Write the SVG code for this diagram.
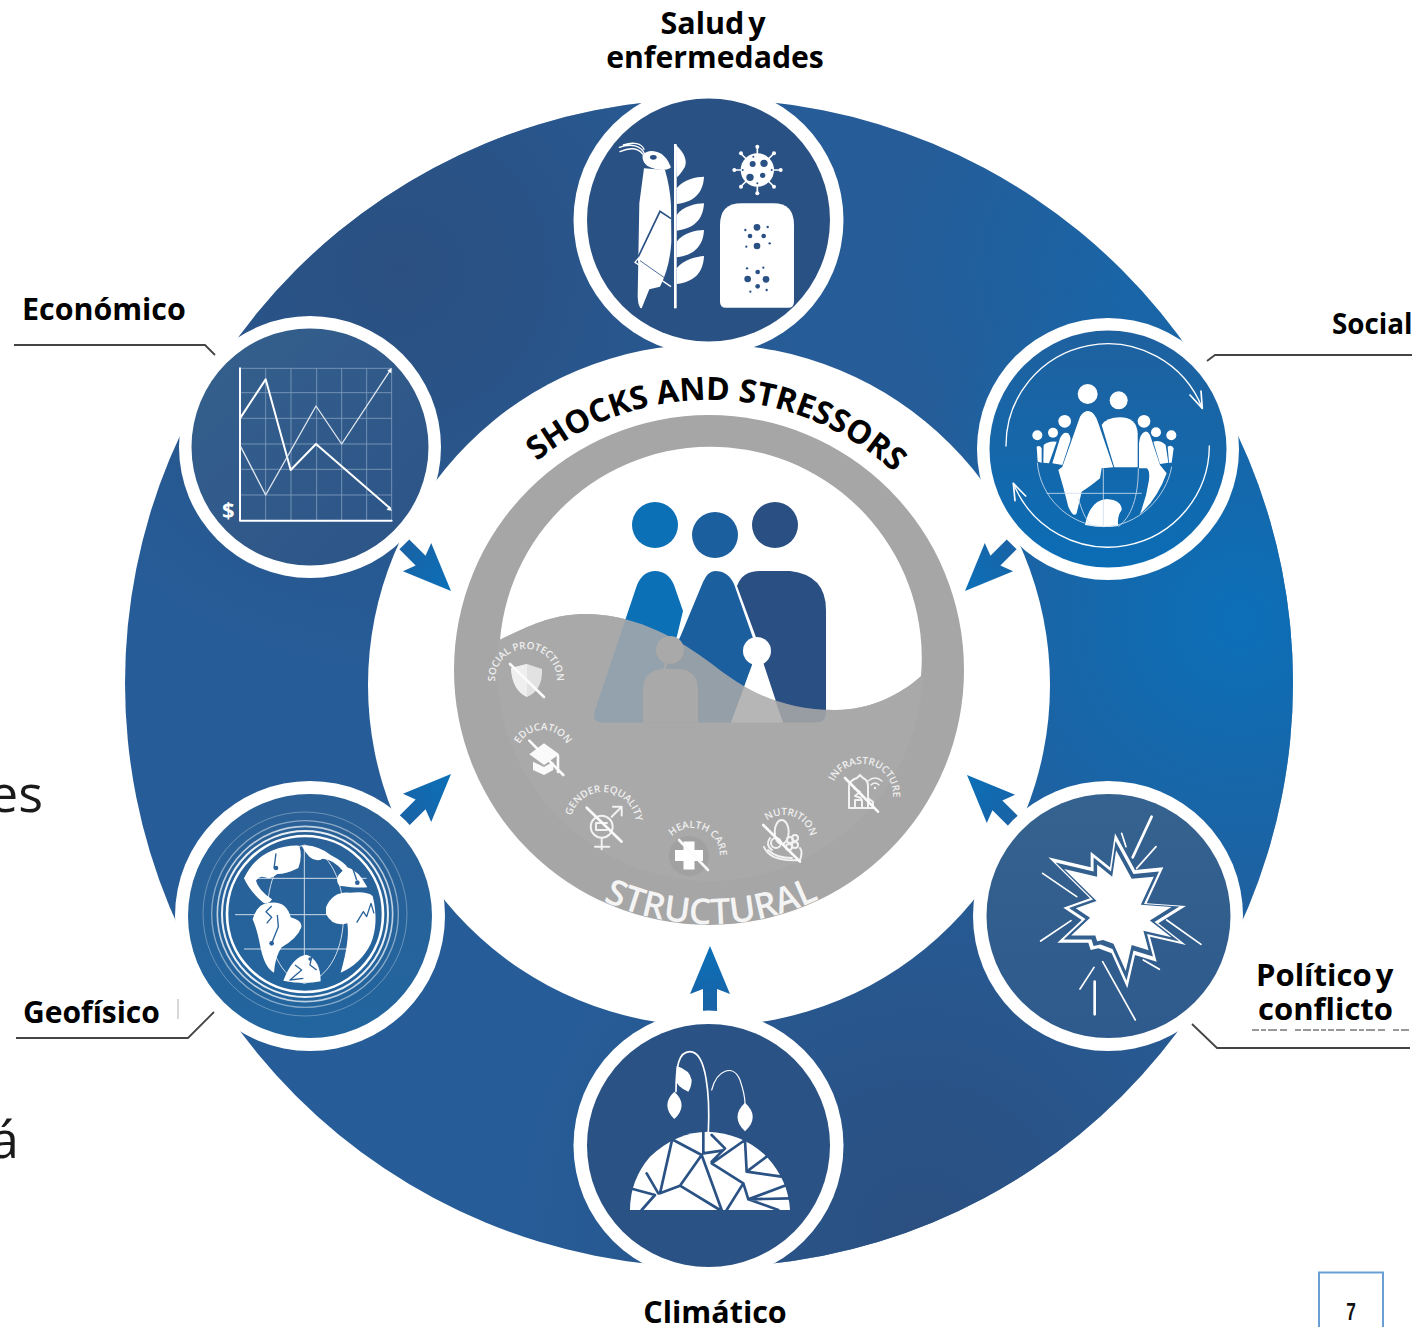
<svg xmlns="http://www.w3.org/2000/svg" xmlns:xlink="http://www.w3.org/1999/xlink" width="1416" height="1327" viewBox="0 0 1416 1327">
<style>
.lb{font-family:"Open Sans","Liberation Sans",sans-serif;font-weight:700;font-size:30px;fill:#000;word-spacing:-4px}
.sm{font-family:"Open Sans","Liberation Sans",sans-serif;font-size:10px;fill:#efefef;font-weight:600}
.bg{font-family:"Open Sans","Liberation Sans",sans-serif;font-size:52px;fill:#1a1a1a}
.w{fill:#fff}.d{fill:#2a5184}
.ws{fill:none;stroke:#fff;stroke-linecap:round;stroke-linejoin:round}
.ic{fill:none;stroke:#f2f2f2;stroke-width:2;stroke-linecap:round;stroke-linejoin:round}
.sl{stroke:#fbfbfb;stroke-width:2.6;stroke-linecap:round}
.lead{fill:none;stroke:#444;stroke-width:1.8}
.crack{fill:none;stroke:#2a5285;stroke-width:8;stroke-linejoin:round;stroke-linecap:round}
</style>
<defs>
<radialGradient id="gA"><stop offset="0" stop-color="#0b6fb8"/><stop offset="1" stop-color="#0b6fb8" stop-opacity="0"/></radialGradient>
<radialGradient id="gB"><stop offset="0" stop-color="#2b4f80"/><stop offset="1" stop-color="#2b4f80" stop-opacity="0"/></radialGradient>
<linearGradient id="gSoc" x1="0" y1="0" x2="0" y2="1"><stop offset="0" stop-color="#1f619f"/><stop offset="1" stop-color="#0b6db5"/></linearGradient>
<linearGradient id="gEco" x1="0" y1="0" x2="1" y2="1"><stop offset="0" stop-color="#35608c"/><stop offset="1" stop-color="#2c5488"/></linearGradient>
<linearGradient id="gGeo" x1="0" y1="0" x2="0" y2="1"><stop offset="0" stop-color="#2b6096"/><stop offset="1" stop-color="#22659f"/></linearGradient>
<linearGradient id="gPol" x1="0" y1="0" x2="0" y2="1"><stop offset="0" stop-color="#36628f"/><stop offset="1" stop-color="#2e5a8d"/></linearGradient>
<linearGradient id="gArr" gradientUnits="userSpaceOnUse" x1="0" y1="0" x2="0" y2="68"><stop offset="0" stop-color="#0b70b8"/><stop offset="1" stop-color="#1a62a5"/></linearGradient>
<clipPath id="ringClip"><circle cx="709" cy="683" r="584"/></clipPath>
<clipPath id="innerClip"><circle cx="710" cy="668" r="213"/></clipPath>
<polygon id="arrow" points="0,0 20,48 7,43 7,66 -7,66 -7,43 -20,48" fill="url(#gArr)"/>
<path id="arcShock" d="M437,672 A272,272 0 0 1 981,672"/>
<path id="arcStruct" d="M455,670 A254,254 0 0 0 963,670"/>
<path id="a1" d="M499.2,695.5 A31,31 0 1 1 552.8,695.5"/>
<path id="a2" d="M519.6,770.5 A27,27 0 1 1 566.4,770.5"/>
<path id="a3" d="M574.4,841.5 A33,33 0 1 1 631.6,841.5"/>
<path id="a4" d="M667.8,870 A28,28 0 1 1 716.2,870"/>
<path id="a5" d="M760.6,855.5 A27,27 0 1 1 807.4,855.5"/>
<path id="a6" d="M835.2,810.5 A31,31 0 1 1 888.8,810.5"/>
</defs>

<g id="ring">
<circle cx="709" cy="683" r="584" fill="#265c97"/>
<g clip-path="url(#ringClip)">
<circle cx="1240" cy="620" r="380" fill="url(#gA)"/>
<circle cx="1130" cy="270" r="260" fill="url(#gA)" opacity=".45"/>
<circle cx="400" cy="270" r="400" fill="url(#gB)"/>
<circle cx="920" cy="1230" r="400" fill="url(#gB)"/>
</g>
<circle cx="709" cy="685" r="341" fill="#fff"/>
</g>

<g id="core">
<circle cx="709" cy="670" r="255" fill="#a6a6a6"/>
<path class="w" d="M500,640 A211,211 0 1 1 921,676 C900,695 870,710 835,710 C780,710 745,690 712,664 C680,640 640,616 590,614 C555,613 530,625 500,640Z"/>
<circle cx="655" cy="525" r="23" fill="#0b70b6"/>
<circle cx="715" cy="535" r="23" fill="#1b5f9f"/>
<circle cx="775" cy="525" r="23" fill="#2a5083"/>
<path fill="#0b70b6" d="M637,585 Q643,571 655,571 Q668,571 674,585 L683,611 L677,636 L640,722.5 H602 Q591,722 595,710Z"/>
<path fill="#1b5f9f" d="M703,582 Q708,571 715,571 Q728,571 734,584 L753,638 L752,665 L731,722.5 H640 L681,635Z"/>
<path fill="#2a5083" d="M737,586 Q742,571 760,571 H790 Q826,575 826,610 V712 Q826,722.5 815,722.5 H783 L764,665 L757,640Z"/>
<circle class="w" cx="757" cy="651" r="14"/>
<path class="w" d="M757,669 Q750,669 748,677 L731,722.5 H783 L766,677 Q764,669 757,669Z"/>
<g clip-path="url(#innerClip)">
<path fill="#aaaaaa" fill-opacity=".86" d="M497,641 C530,625 555,613 590,614 C640,616 680,640 712,664 C745,690 780,710 835,710 C870,710 900,695 925,674 V890 H497Z"/>
</g>
<circle cx="670" cy="650" r="14" fill="#a9a9a9"/>
<path fill="#a9a9a9" d="M643,722.5 V690 Q643,669 665,669 H676 Q698,669 698,690 V722.5Z"/>

<text font-family="'Open Sans','Liberation Sans',sans-serif" font-weight="700" font-size="32" fill="#000"><textPath xlink:href="#arcShock" href="#arcShock" startOffset="51%" text-anchor="middle">SHOCKS AND STRESSORS</textPath></text>
<text font-family="'Open Sans','Liberation Sans',sans-serif" font-weight="600" font-size="35.500" fill="#f4f4f4"><textPath xlink:href="#arcStruct" href="#arcStruct" startOffset="50.300%" text-anchor="middle">STRUCTURAL</textPath></text>

<g id="social-protection">
<text class="sm"><textPath href="#a1" startOffset="50%" text-anchor="middle">SOCIAL PROTECTION</textPath></text>
<path fill="#e2e2e2" d="M511,668 L527,664 L542,669 Q543,690 527,697 Q512,690 511,668Z"/>
<path fill="#efefef" d="M511,668 L527,664 V697 Q512,690 511,668Z"/>
<line class="sl" x1="510" y1="664" x2="544" y2="697"/>
</g>
<g id="education">
<text class="sm"><textPath href="#a2" startOffset="50%" text-anchor="middle">EDUCATION</textPath></text>
<polygon fill="#fafafa" points="529.3,754.3 544,743.3 559.3,754.3 544,765"/>
<polygon fill="#fafafa" points="533,761.7 533,770 544,775 553.3,770 553.3,761.7 544,767"/>
<line class="sl" x1="529.3" y1="740.7" x2="563.3" y2="775"/>
<line class="sl" x1="558" y1="756" x2="558" y2="772" stroke-width="1.5"/>
</g>
<g id="gender-equality">
<text class="sm" transform="rotate(5 603 825)"><textPath href="#a3" startOffset="50%" text-anchor="middle">GENDER EQUALITY</textPath></text>
<g class="ic" stroke-width="2.4"><circle cx="601.7" cy="826.7" r="11"/><path d="M611.7,816.7 L621.7,806.7 M613,806.7 H621.7 V815.5 M601.7,838 V849.3 M595,846.7 H609.3 M596,823 H607 M596,830 H607 M596,823 V830"/></g>
<line class="sl" x1="586.7" y1="807.7" x2="621.7" y2="841.7"/>
</g>
<g id="health-care">
<text class="sm" transform="rotate(22 692 856)"><textPath href="#a4" startOffset="50%" text-anchor="middle">HEALTH CARE</textPath></text>
<circle cx="689" cy="856" r="20" fill="#a1a1a1"/>
<path class="w" d="M683.5,841.5 H694.5 V850 H703 V861 H694.5 V869.5 H683.5 V861 H675 V850 H683.5Z"/>
<line class="sl" x1="679" y1="840" x2="708" y2="870"/>
</g>
<g id="nutrition">
<text class="sm" transform="rotate(20 784 842)"><textPath href="#a5" startOffset="50%" text-anchor="middle">NUTRITION</textPath></text>
<g class="ic" stroke-width="1.2"><ellipse cx="781.700" cy="832" rx="7" ry="12"/><circle cx="790" cy="840" r="3"/><circle cx="795" cy="845" r="3"/><circle cx="789" cy="847" r="3"/><circle cx="795" cy="838" r="3"/><circle cx="776" cy="843" r="5"/><path d="M764,847 Q770,862 800,860 Q803,852 800,848 M768,850 Q776,858 792,858 M770,838 Q765,845 772,850"/></g>
<line class="sl" x1="763.3" y1="825" x2="800" y2="861.7"/>
</g>
<g id="infrastructure">
<text class="sm" transform="rotate(15 862 795)"><textPath href="#a6" startOffset="50%" text-anchor="middle">INFRASTRUCTURE</textPath></text>
<g class="ic"><path d="M849,808 V786 Q850,780 857,778 L860,775 L863,778 Q868,780 868,786 V808 H849 M855,808 V800 H862 V808 M868,798 L873,802 V808 H868 M854,788 L860,792 L855,796 L861,798"/><path d="M868,781 Q875,775 882,781 M871,785 Q875,781 879,785" stroke-width="1.4"/></g>
<circle cx="875" cy="788" r="1.2" fill="#f2f2f2"/>
<line class="sl" x1="845" y1="778" x2="878" y2="811.7"/>
</g>
</g>

<g id="connectors">
<use href="#arrow" transform="translate(451 591) rotate(135)"/>
<use href="#arrow" transform="translate(965 591) rotate(225)"/>
<use href="#arrow" transform="translate(451 774) rotate(45)"/>
<use href="#arrow" transform="translate(967 775) rotate(315)"/>
<use href="#arrow" transform="translate(710 946)"/>
<path class="lead" d="M14,345 H205 L215,355"/>
<path class="lead" d="M1412,355 H1215 L1207,361"/>
<path class="lead" d="M16,1038 H188 L214,1012"/>
<path d="M178,999 V1019" stroke="#c8c8c8" stroke-width="1.4"/>
<path class="lead" d="M1192,1024 L1217,1048 H1410"/>
<path d="M1252,1030 H1410" stroke="#777" stroke-width="1.6" stroke-dasharray="7 2 5 2 9 3 7 8 6 2 8 2 6 2 5 2 6 2 9 5"/>
</g>

<g id="node-salud">
<circle class="w" cx="708.5" cy="220" r="135"/>
<circle cx="708.5" cy="220" r="121.5" fill="#2a5184"/>
<g transform="translate(570 90) scale(.33333)">
<path class="w" d="M218,195 C235,175 275,180 295,215 L303,232 C290,245 260,240 240,232 C225,225 215,210 218,195Z"/>
<ellipse cx="250" cy="202" rx="10" ry="7" fill="#2a5184"/>
<path class="ws" stroke-width="4" d="M148,172 C180,160 215,165 225,195 M150,185 C180,172 205,175 218,192 M160,165 C190,155 215,160 222,178"/>
<path class="w" d="M222,235 L285,240 Q300,290 303,345 L304,455 Q300,530 270,590 L238,598 L215,655 Q205,655 203,620 L208,340Z"/>
<path fill="none" stroke="#2a5184" stroke-width="5" d="M303,386 L270,364 L205,500"/>
<path fill="none" stroke="#fff" stroke-width="4" d="M205,505 L195,517 L303,590 M205,505 L210,525"/>
<path fill="none" stroke="#2a5184" stroke-width="2.500" d="M210,512 L290,568"/>
<line x1="316" y1="162" x2="316" y2="655" stroke="#fff" stroke-width="8"/>
<path class="w" d="M318,165 Q355,200 345,230 Q330,255 320,262Z"/>
<path class="w" d="M320,295 C340,268 380,260 402,260 C400,300 380,335 320,342Z"/>
<path class="w" d="M320,375 C340,348 380,340 402,340 C400,380 380,415 320,422Z"/>
<path class="w" d="M320,455 C340,428 380,420 402,420 C400,460 380,495 320,502Z"/>
<path class="w" d="M320,535 C340,508 380,500 402,498 C400,540 380,575 320,582Z"/>
<circle class="w" cx="562" cy="240" r="50"/>
<g stroke="#fff" stroke-width="5" stroke-linecap="round"><path d="M562,172 V200 M562,280 V308 M494,240 H522 M602,240 H630 M514,192 L535,213 M610,192 L589,213 M514,288 L535,267 M610,288 L589,267"/></g>
<g class="w"><circle cx="562" cy="170" r="6"/><circle cx="562" cy="310" r="6"/><circle cx="493" cy="240" r="6"/><circle cx="632" cy="240" r="6"/><circle cx="513" cy="190" r="6"/><circle cx="612" cy="190" r="6"/><circle cx="513" cy="290" r="6"/><circle cx="612" cy="290" r="6"/></g>
<g class="d"><circle cx="548" cy="222" r="9"/><circle cx="582" cy="220" r="11"/><circle cx="540" cy="262" r="11"/><circle cx="578" cy="256" r="8"/><circle cx="562" cy="280" r="3"/><circle cx="550" cy="200" r="3"/><circle cx="605" cy="240" r="3"/><circle cx="518" cy="240" r="3"/></g>
<path class="w" d="M450,405 Q450,340 515,340 H610 Q672,340 672,405 V635 Q672,653 655,653 H468 Q450,653 450,635Z"/>
<g class="d"><circle cx="561" cy="412" r="10"/><circle cx="540" cy="438" r="7"/><circle cx="581" cy="438" r="7"/><circle cx="561" cy="468" r="10"/><circle cx="526" cy="420" r="3.500"/><circle cx="593" cy="411" r="3.500"/><circle cx="529" cy="470" r="3.500"/><circle cx="599" cy="460" r="3.500"/><circle cx="533" cy="567" r="10"/><circle cx="588" cy="568" r="10"/><circle cx="563" cy="546" r="7"/><circle cx="563" cy="589" r="7"/><circle cx="531" cy="535" r="3.500"/><circle cx="580" cy="533" r="3.500"/><circle cx="541" cy="605" r="3.500"/><circle cx="590" cy="600" r="3.500"/></g>
</g>
</g>

<g id="node-social">
<circle class="w" cx="1108" cy="449" r="131"/>
<circle cx="1108" cy="449" r="118.5" fill="url(#gSoc)"/>
<g transform="translate(975 310) scale(.33333)">
<path class="ws" stroke-width="4" d="M93,408 A305,305 0 0 1 682,295 M703,408 A305,305 0 0 1 115,520"/>
<path class="ws" stroke-width="5" d="M645,255 L682,295 L678,243 M115,520 L120,572 M115,520 L152,558"/>
<g class="w"><circle cx="338" cy="252" r="30"/><circle cx="431" cy="271" r="27"/><circle cx="269" cy="334" r="19"/><circle cx="234" cy="368" r="15"/><circle cx="187" cy="376" r="15"/><circle cx="507" cy="334" r="19"/><circle cx="543" cy="367" r="15"/><circle cx="589" cy="376" r="15"/></g>
<path class="w" d="M340,303 Q360,305 370,340 L415,472 L380,475 L375,505 Q345,530 320,545 L305,610 Q295,625 280,590 Q265,530 250,480 L262,470 L315,320 Q325,303 340,303Z"/>
<path class="w" d="M380,345 Q395,322 435,322 Q485,322 488,370 V472 H418Z"/>
<path class="w" d="M510,365 Q495,370 492,400 V475 H515 Q525,480 522,510 Q515,560 495,612 Q545,570 575,490 L555,465 L525,375 Q518,363 510,365Z"/>
<path class="w" d="M330,645 Q345,570 395,567 Q440,570 440,600 Q425,620 430,648 Q380,655 330,645Z"/>
<path class="w" d="M185,410 Q195,405 200,415 V458 L188,455Z M206,405 Q220,392 245,395 L222,460 L205,458Z M232,460 L255,385 Q265,362 280,370 Q290,385 285,395 L262,465Z"/>
<path class="w" d="M535,395 Q555,388 572,405 L580,458 L555,462Z M578,410 Q590,402 596,415 L590,458 L582,458Z"/>
<path fill="none" stroke="#cfe0ef" stroke-width="2.500" d="M187,458 C195,560 280,645 385,650 C490,650 575,560 590,470 M215,550 H500 M385,475 V648 M490,475 C490,560 470,620 430,650 M310,565 C320,600 330,625 345,640"/>
</g>
</g>

<g id="node-economico">
<circle class="w" cx="310" cy="447" r="131"/>
<circle cx="310" cy="447" r="118.5" fill="url(#gEco)"/>
<g transform="translate(170 320) scale(.33333)">
<path fill="none" stroke="#7f9cbc" stroke-width="2.500" d="M287,145 V600 M363,145 V600 M440,145 V600 M515,145 V600 M590,145 V600 M665,145 V600 M210,145 H665 M210,218 H665 M210,295 H665 M210,372 H665 M210,448 H665 M210,525 H665"/>
<path class="ws" stroke-width="6" d="M210,145 V602 H665"/>
<path class="ws" stroke-width="6" d="M212,292 L287,178 L362,450 L438,372 L660,565"/>
<path fill="none" stroke="#dfe6ef" stroke-width="4" stroke-linejoin="round" d="M212,380 L287,525 L438,258 L515,372 L660,152"/>
<polygon class="w" points="665,143 664,160 652,152"/>
<polygon class="w" points="666,572 650,570 658,558"/>
<text x="175" y="594" text-anchor="middle" font-family="'Open Sans','Liberation Sans',sans-serif" font-weight="700" font-size="66" fill="#fff">$</text>
</g>
</g>

<g id="node-geofisico">
<circle class="w" cx="310" cy="916" r="135"/>
<circle cx="310" cy="916" r="122" fill="url(#gGeo)"/>
<g transform="translate(170 780) scale(.33333)">
<g fill="none" stroke="#fff"><circle cx="405" cy="402" r="306" stroke-width="3" opacity=".3"/><circle cx="405" cy="402" r="280" stroke-width="4" opacity=".45"/><circle cx="405" cy="402" r="263" stroke-width="5" opacity=".7"/><circle cx="405" cy="402" r="249" stroke-width="6" opacity=".9"/><circle cx="405" cy="402" r="234" stroke-width="8"/></g>
<path fill="none" stroke="#cfdcea" stroke-width="3" d="M403,195 V610 M195,404 H615 M222,295 H590 M222,507 H590 M403,195 C250,230 260,580 403,610 C560,580 560,230 403,195"/>
<path class="w" d="M388,197 Q398,232 385,264 Q350,282 322,282 Q300,300 285,292 Q270,285 258,302 Q265,330 306,358 Q300,372 280,368 Q240,335 222,295 Q250,235 305,212 Q350,195 388,197Z"/>
<path class="w" d="M248,418 Q262,368 300,368 Q350,362 362,412 Q398,422 394,442 Q382,475 335,502 Q315,530 312,578 Q285,565 272,505 Q262,450 248,418Z"/>
<path class="w" d="M468,382 Q488,333 540,338 Q592,333 608,348 Q628,430 602,492 Q572,552 512,578 Q540,480 532,430 Q488,442 468,402Z"/>
<path class="w" d="M395,197 Q440,192 482,225 Q525,248 532,262 Q565,270 592,322 Q560,325 508,317 Q490,295 518,272 Q490,238 458,236 Q425,255 395,197Z"/>
<path class="w" d="M340,602 Q368,528 410,524 Q452,540 452,604 Q400,614 340,602Z"/>
<g fill="none" stroke="#2a6299" stroke-width="4" stroke-linejoin="round"><path d="M305,378 L288,395 L305,412 L290,430"/><path d="M318,220 L312,265 M305,490 L325,440 L322,405"/><path d="M540,240 L560,300 M560,428 L580,395 L590,410 L603,370 L612,400"/><path d="M375,555 L395,570 L360,600 L400,595 M425,530 L420,555 L440,570"/></g>
<g fill="#2a6299"><circle cx="318" cy="264" r="7"/><circle cx="305" cy="490" r="7"/><circle cx="562" cy="308" r="7"/><circle cx="420" cy="537" r="5"/></g>
</g>
</g>

<g id="node-politico">
<circle class="w" cx="1108" cy="916" r="135"/>
<circle cx="1108.5" cy="916" r="122" fill="url(#gPol)"/>
<g transform="translate(970 780) scale(.33333)">
<polygon class="w" points="235,232 362,262 362,215 420,262 435,160 495,270 580,262 530,370 648,378 565,430 648,495 540,470 560,545 495,525 472,625 425,520 385,505 362,510 355,488 262,488 335,420 280,383 360,355"/>
<polygon fill="#33608e" transform="translate(450 390) scale(.9) translate(-450 -390)" points="235,232 362,262 362,215 420,262 435,160 495,270 580,262 530,370 648,378 565,430 648,495 540,470 560,545 495,525 472,625 425,520 385,505 362,510 355,488 262,488 335,420 280,383 360,355"/>
<polygon class="w" transform="translate(450 390) scale(.78) translate(-450 -390)" points="235,232 362,262 362,215 420,262 435,160 495,270 580,262 530,370 648,378 565,430 648,495 540,470 560,545 495,525 472,625 425,520 385,505 362,510 355,488 262,488 335,420 280,383 360,355"/>
<g class="ws" stroke-width="5"><path d="M558,200 L500,265 M455,160 L468,200 M218,280 L320,350 M303,422 L212,483 M590,420 L693,493 M520,540 L568,568 M372,562 L330,627 M398,545 L496,720"/></g>
<path class="ws" stroke-width="8" d="M545,110 L488,232 M374,605 V703"/>
</g>
</g>

<g id="node-climatico">
<circle class="w" cx="708.5" cy="1145.5" r="135"/>
<circle cx="708.5" cy="1145.5" r="121.5" fill="#2a5285"/>
<g transform="translate(570 1020) scale(.33333)">
<path class="ws" stroke-width="5" d="M415,335 C420,230 410,95 360,95 C325,95 318,140 318,215"/>
<path class="ws" stroke-width="3.500" d="M425,210 C440,150 490,130 510,180 C520,210 525,230 525,250"/>
<path class="w" d="M313,215 C285,240 285,270 313,297 C342,270 342,240 313,215Z"/>
<path class="w" d="M525,248 C495,275 495,305 525,334 C556,305 556,275 525,248Z"/>
<path class="w" d="M320,138 Q360,150 365,180 Q365,200 355,215 Q320,200 318,180Z"/>
<path class="w" d="M180,570 Q180,480 240,410 Q320,335 415,335 Q520,340 590,410 Q655,480 660,570Z"/>
<path class="crack" d="M180,505 L255,525 L215,570 M230,460 L265,520 M305,365 L270,520 L330,497 L395,405 L310,360 M395,405 L455,570 M330,497 L450,570 M400,335 V400 L455,392 M425,345 L465,385 L425,425 M525,360 L425,430 L520,490 L470,570 M525,360 L530,455 M590,410 L530,455 L635,470 M520,490 L535,538 L650,495 M535,538 L625,570 M535,538 L660,535"/>
</g>
</g>

<g id="labels">
<text class="lb" x="713" y="34" text-anchor="middle" font-size="30.500" style="font-size:30.500px">Salud y</text>
<text class="lb" x="715" y="68" text-anchor="middle" style="font-size:30.200px">enfermedades</text>
<text class="lb" x="22" y="320" style="font-size:30.400px">Económico</text>
<text class="lb" x="1332" y="334" style="font-size:27.800px">Social</text>
<text class="lb" x="1256" y="986" style="font-size:31px">Político y</text>
<text class="lb" x="1258" y="1020" style="font-size:31px">conflicto</text>
<text class="lb" x="23" y="1023" style="font-size:30px">Geofísico</text>
<text class="lb" x="715" y="1323" text-anchor="middle" style="font-size:30.500px">Climático</text>
<text class="bg" x="-11" y="812">es</text>
<text class="bg" x="-10" y="1158">á</text>
</g>

<g id="page-number">
<path d="M1319,1330 V1272.500 H1383 V1330" fill="none" stroke="#6a9fd4" stroke-width="2"/>
<text x="1351" y="1320" text-anchor="middle" font-family="'Liberation Sans',sans-serif" font-weight="700" font-size="24" fill="#111" transform="translate(1351 0) scale(.72 1) translate(-1351 0)">7</text>
</g>
</svg>
